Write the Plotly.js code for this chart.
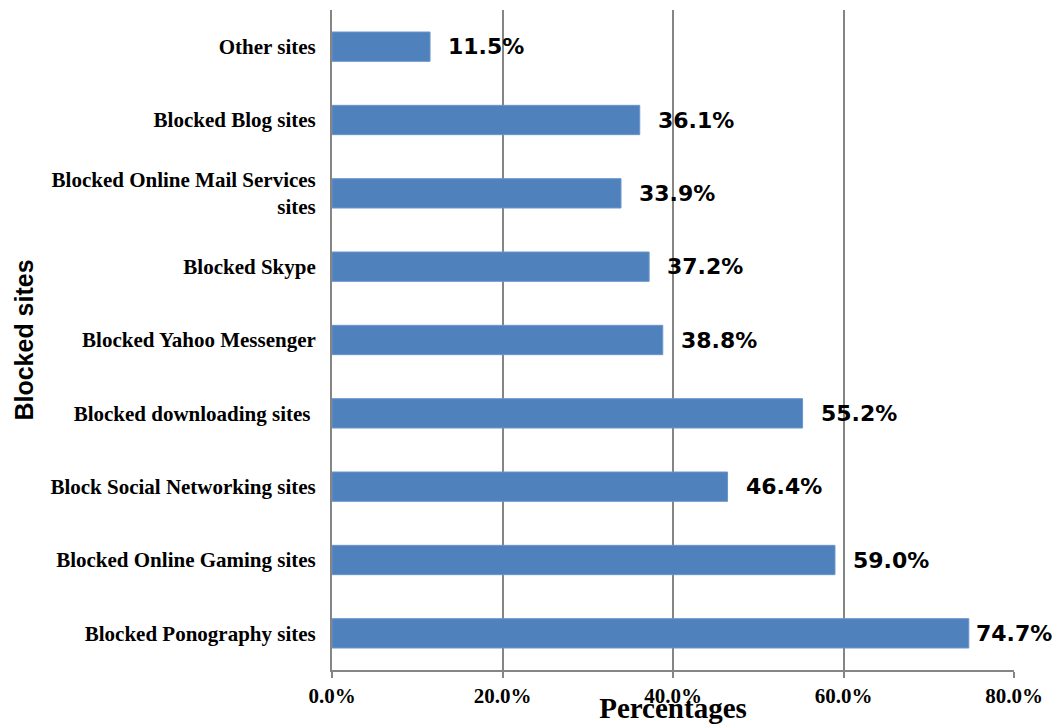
<!DOCTYPE html>
<html>
<head>
<meta charset="utf-8">
<script src="https://cdn.plot.ly/plotly-3.0.1.min.js"></script>
<style>html,body{margin:0;padding:0;background:#fff;}#chart{width:1056px;height:724px;}</style>
</head>
<body>
<div id="chart"></div>
<script>
const categories = [
  "Other sites",
  "Blocked Blog sites",
  "Blocked Online Mail Services<br>sites",
  "Blocked Skype",
  "Blocked Yahoo Messenger",
  "Blocked downloading sites ",
  "Block Social Networking sites",
  "Blocked Online Gaming sites",
  "Blocked Ponography sites"
];
const values = [11.5, 36.1, 33.9, 37.2, 38.8, 55.2, 46.4, 59.0, 74.7];
const tickVals = [0, 20, 40, 60, 80];
const tickLabels = ["0.0%", "20.0%", "40.0%", "60.0%", "80.0%"];

const trace = {
  type: 'bar',
  orientation: 'h',
  x: values,
  y: categories,
  width: 0.4,
  marker: {color: '#4F81BD', line: {color: '#6A96CC', width: 1}},
  hoverinfo: 'none'
};

const annotations = values.map((v, i) => ({
  x: v, y: categories[i], xref: 'x', yref: 'y',
  text: v.toFixed(1) + '%',
  showarrow: false,
  xanchor: 'left',
  xshift: v > 70 ? 5 : 16,
  font: {family: 'DejaVu Sans', size: 22, color: '#000', weight: 'bold'}
}));

const layout = {
  width: 1056, height: 724,
  margin: {l: 332, r: 42, t: 10, b: 54},
  paper_bgcolor: '#fff', plot_bgcolor: '#fff',
  showlegend: false,
  xaxis: {
    range: [0, 80],
    tickvals: tickVals, ticktext: tickLabels,
    showgrid: true, gridcolor: '#858585', gridwidth: 2,
    zeroline: false,
    showline: true, linecolor: '#858585', linewidth: 2,
    ticks: 'outside', ticklen: 6, tickcolor: '#858585', tickwidth: 2,
    tickfont: {family: 'Liberation Serif', size: 21, color: '#000', weight: 'bold'},
    title: {text: 'Percentages', font: {family: 'Liberation Serif', size: 29, color: '#000', weight: 'bold'}, standoff: 0},
    fixedrange: true
  },
  yaxis: {
    type: 'category',
    autorange: 'reversed',
    showgrid: false, zeroline: false,
    showline: true, linecolor: '#858585', linewidth: 2,
    ticks: '', ticklabelstandoff: 10,
    tickfont: {family: 'Liberation Serif', size: 21, color: '#000', weight: 'bold'},
    title: {text: 'Blocked sites', font: {family: 'Liberation Sans', size: 25, color: '#000', weight: 'bold'}, standoff: 10},
    fixedrange: true
  },
  annotations: annotations
};

Plotly.newPlot('chart', [trace], layout, {displayModeBar: false, staticPlot: true});
</script>
</body>
</html>
